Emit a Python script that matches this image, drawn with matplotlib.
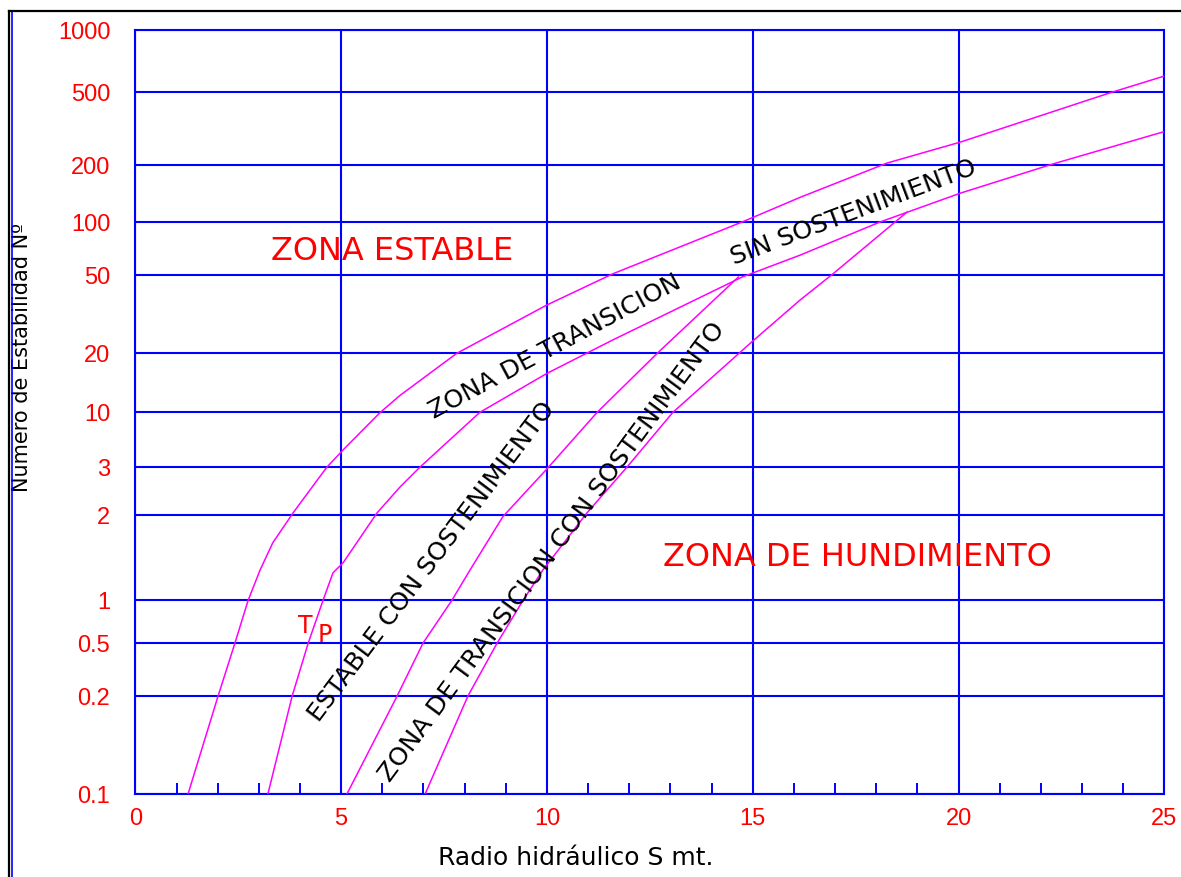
import numpy as np
import matplotlib
matplotlib.use("Agg")
import matplotlib.pyplot as plt
from matplotlib.lines import Line2D
from matplotlib.ticker import MultipleLocator, NullLocator

# Grafico de estabilidad: Numero de estabilidad vs Radio hidraulico

# ticks of the (non-uniform) stability number axis
y_ticks = [0.1, 0.2, 0.5, 1, 2, 3, 10, 20, 50, 100, 200, 500, 1000]
y_tick_labels = ["0.1", "0.2", "0.5", "1", "2", "3", "10", "20", "50",
                 "100", "200", "500", "1000"]
# relative height of each tick line on the drawing
y_tick_height = [0.0, 0.1283, 0.1977, 0.2536, 0.3649, 0.4278, 0.4998,
                 0.5771, 0.6792, 0.7490, 0.8236, 0.9188, 1.0]

x_ticks = [0, 5, 10, 15, 20, 25]

# curve 1: limite zona estable
c1_x = [1.28, 2.01, 2.42, 2.74, 3.03, 3.34, 3.83, 4.65, 5.05, 5.94, 6.43,
        7.81, 10.0, 11.6, 14.74, 16.15, 18.26, 20.04, 23.68, 25.0]
c1_y = [0.1, 0.2, 0.5, 1.0, 1.28, 1.6, 2.04, 3.0, 4.4, 9.9, 12.2,
        20, 35.3, 51, 100, 135, 205, 267, 497, 600]

# curve 2: limite zona de transicion (sin sostenimiento)
c2_x = [3.22, 3.81, 4.2, 4.56, 4.8, 5.05, 5.87, 6.43, 6.91, 8.37, 10.0,
        11.6, 14.74, 16.15, 18.09, 20.04, 22.3, 25.0]
c2_y = [0.1, 0.2, 0.5, 1.0, 1.25, 1.36, 2.04, 2.54, 3.0, 10, 15.8,
        23.4, 49, 65, 100, 142, 203, 305]

# curve 3: limite estable con sostenimiento
c3_x = [5.14, 6.36, 6.99, 7.69, 8.13, 8.93, 10.0, 11.22, 12.68, 14.65]
c3_y = [0.1, 0.2, 0.5, 1.0, 1.28, 1.98, 2.96, 10, 20, 49]

# curve 4: limite zona de transicion con sostenimiento
c4_x = [7.04, 8.08, 8.79, 9.42, 9.9, 10.97, 11.94, 13.06, 14.98, 16.15,
        16.95, 18.75]
c4_y = [0.1, 0.2, 0.5, 1.0, 1.28, 2.04, 3.0, 10, 22.9, 37.4, 51, 113]

log_ticks = np.log10(y_ticks)


def fwd(v):
    v = np.clip(np.asarray(v, dtype=float), 1e-6, None)
    return np.interp(np.log10(v), log_ticks, y_tick_height)


def inv(p):
    return 10 ** np.interp(np.asarray(p, dtype=float), y_tick_height, log_ticks)


fig = plt.figure(figsize=(11.81, 8.77), dpi=100)
ax = fig.add_axes([0.1146, 0.0946, 0.8713, 0.8708])
ax.set_yscale("function", functions=(fwd, inv))
ax.set_xlim(0, 25)
ax.set_ylim(0.1, 1000)

for cx, cy in [(c1_x, c1_y), (c2_x, c2_y), (c3_x, c3_y), (c4_x, c4_y)]:
    ax.plot(cx, cy, color="#ff00ff", lw=1.1, zorder=3)

ax.set_yticks(y_ticks)
ax.set_yticklabels(y_tick_labels)
ax.yaxis.set_minor_locator(NullLocator())
ax.set_xticks(x_ticks)
ax.xaxis.set_minor_locator(MultipleLocator(1))

ax.grid(True, which="major", color="blue", lw=1.5)
for s in ax.spines.values():
    s.set_color("blue")
    s.set_linewidth(1.5)

ax.tick_params(axis="both", which="major", length=0, labelcolor="red",
               labelsize=17)
ax.tick_params(axis="y", pad=18)
ax.tick_params(axis="x", pad=10)
ax.tick_params(axis="x", which="minor", direction="in", length=8,
               width=1.4, color="blue")
for lab in ax.get_xticklabels() + ax.get_yticklabels():
    lab.set_fontfamily("Liberation Sans")

ax.set_xlabel("Radio hidráulico S mt.", fontsize=18)
ax.xaxis.set_label_coords(0.428, -0.068)
ax.set_ylabel("Numero de Estabilidad Nº", fontsize=15)
ax.yaxis.set_label_coords(-0.1, 0.572)

# zone labels
ax.text(6.24, 68.5, "ZONA ESTABLE", color="red", fontsize=23,
        ha="center", va="center")
ax.text(17.53, 1.42, "ZONA DE HUNDIMIENTO", color="red", fontsize=23,
        ha="center", va="center")
ax.text(4.12, 0.66, "T", color="red", fontsize=17, ha="center", va="center")
ax.text(4.6, 0.57, "P", color="red", fontsize=17, ha="center", va="center")

rot_labels = [
    (10.2, 21.5, "ZONA DE TRANSICION", 28),
    (17.44, 112, "SIN SOSTENIMIENTO", 20.6),
    (7.21, 1.37, "ESTABLE CON SOSTENIMIENTO", 53),
    (10.12, 1.48, "ZONA DE TRANSICION CON SOSTENIMIENTO", 53.5),
]
for tx, ty, txt, rot in rot_labels:
    ax.text(tx, ty, txt, fontsize=18.3, rotation=rot, rotation_mode="anchor",
            ha="center", va="center", color="black")

# window frame of the original drawing
fig.add_artist(Line2D([9.5 / 1181, 9.5 / 1181], [0, 1 - 11 / 877],
                      color="black", lw=1.6))
fig.add_artist(Line2D([12 / 1181, 12 / 1181], [0, 1 - 12 / 877],
                      color="blue", lw=1.2))
fig.add_artist(Line2D([9 / 1181, 1], [1 - 11 / 877, 1 - 11 / 877],
                      color="black", lw=1.6))

fig.savefig("out.png", dpi=100)
